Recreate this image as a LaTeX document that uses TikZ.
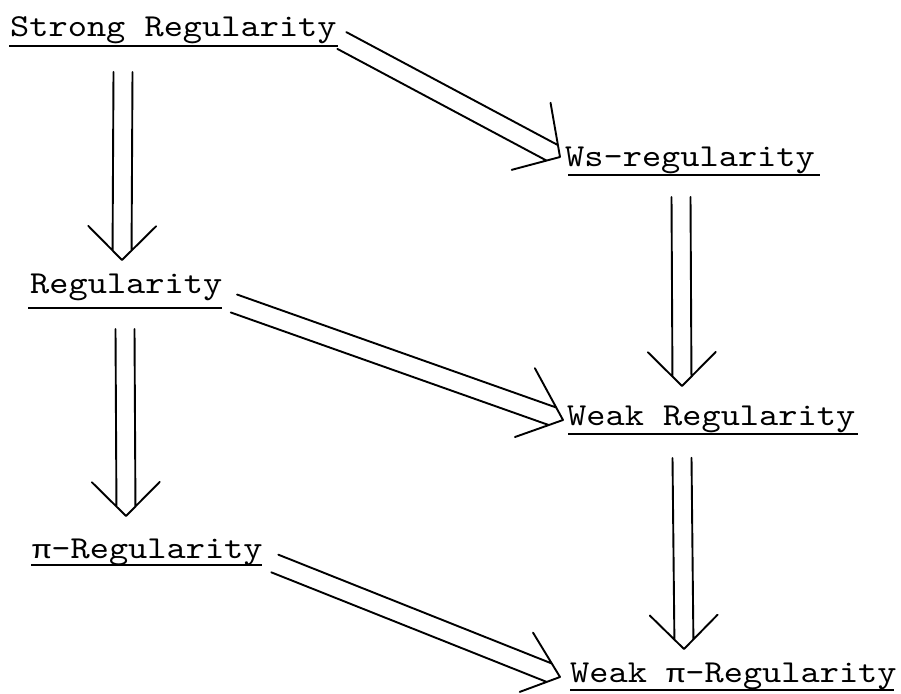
\documentclass[tikz,border=0pt]{standalone}
\usepackage{fontspec}
\newfontfamily\twfont{Liberation Mono}
\newfontfamily\lmtt[FakeStretch=1.143]{lmmono10-regular.otf}
\newcommand\typi{\scalebox{1}[0.82]{\twfont π}}
\usetikzlibrary{calc}
\tikzset{
  lbl/.style={anchor=base west, inner sep=0pt, font=\lmtt\fontsize{32}{36}\selectfont},
  uline/.style={line width=2.6pt},
  wanga/.code={\def\wingA{#1}\pgfmathsetmacro\endA{9.5/sin(#1)}},
  wangb/.code={\def\wingB{#1}\pgfmathsetmacro\endB{9.5/sin(#1)}},
  wlena/.code={\def\wlA{#1}},
  wlenb/.code={\def\wlB{#1}},
  wanga=45, wangb=45, wlena=48, wlenb=48,
  imp/.style={line width=1.9pt, line cap=round, line join=round,
    to path={
      ($(\tikztostart)!9.5pt!90:(\tikztotarget)$) -- ($(\tikztotarget)!\endA pt!-\wingA:(\tikztostart)$)
      ($(\tikztostart)!9.5pt!-90:(\tikztotarget)$) -- ($(\tikztotarget)!\endB pt!\wingB:(\tikztostart)$)
      ($(\tikztotarget)!\wlA pt!-\wingA:(\tikztostart)$) -- (\tikztotarget) -- ($(\tikztotarget)!\wlB pt!\wingB:(\tikztostart)$)
    }}
}
\newcommand\myul[5]{\draw[uline] ([shift={(#2,#4)}]#1.base west) -- ([shift={(#3,#4)}]#1.base east);}
\begin{document}
\begin{tikzpicture}[x=1pt,y=-1pt]
\useasboundingbox (0,0) rectangle (901,693);
\node[lbl] (sr) at (10,37) {Strong Regularity};
\node[lbl] (ws) at (565,166) {Ws-regularity};
\node[lbl] (reg) at (30,293) {Regularity};
\node[lbl] (wr) at (567,425) {Weak Regularity};
\node[lbl] (pr) at (32,558) {\typi-Regularity};
\node[lbl] (wp) at (570,682) {Weak \typi-Regularity};
\myul{sr}{-1}{1}{9}{}
\myul{ws}{3}{5}{9}{}
\myul{reg}{-2}{0}{15}{}
\myul{wr}{1}{3}{9}{}
\myul{pr}{-1}{-1}{7}{}
\myul{wp}{0}{-3}{8}{}
\draw[imp] ([shift={(113,35)}]sr.base west) to ([shift={(92,-33)}]reg.base west);
\draw[imp] ([shift={(95,36)}]reg.base west) to ([shift={(94,-42)}]pr.base west);
\draw[imp] ([shift={(116,31)}]ws.base west) to ([shift={(115,-39)}]wr.base west);
\draw[imp] ([shift={(115,33)}]wr.base west) to ([shift={(114,-33)}]wp.base west);
\draw[imp,wanga=52,wangb=43,wlena=55,wlenb=50] ([shift={(5,3.5)}]sr.base east) to ([shift={(-5,-9)}]ws.base west);
\draw[imp,wanga=42,wangb=39,wlena=59,wlenb=51] ([shift={(11.5,10.5)}]reg.base east) to ([shift={(-4,-5)}]wr.base west);
\draw[imp,wanga=37,wangb=42,wlena=52,wlenb=43] ([shift={(12,5.5)}]pr.base east) to ([shift={(-10,-5)}]wp.base west);
\end{tikzpicture}
\end{document}
